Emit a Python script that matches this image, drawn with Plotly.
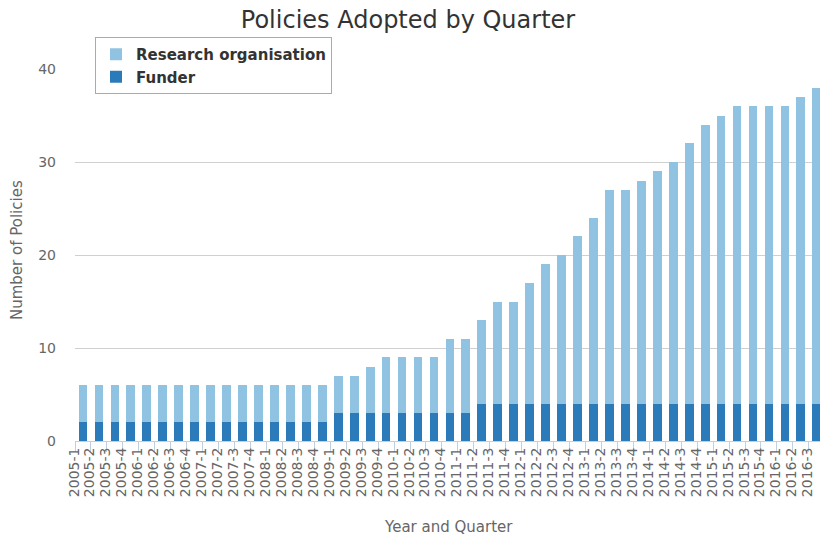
import plotly.graph_objects as go

quarters = [f"{y}-{q}" for y in range(2005, 2017) for q in range(1, 5)][:47]

total_policies = [6] * 16 + [7, 7, 8, 9, 9, 9, 9, 11, 11, 13, 15, 15, 17, 19, 20, 22, 24,
                             27, 27, 28, 29, 30, 32, 34, 35, 36, 36, 36, 36, 37, 38]
funder = [2] * 16 + [3] * 9 + [4] * 22
research_org = [t - f for t, f in zip(total_policies, funder)]

LIGHT = "#90c3e1"
DARK = "#2b7bbb"
GRAY = "#666666"

W, H = 820, 540
PL, PT, PB = 75, 69, 441  # plot left, top, bottom in px
PW, PH = W - PL, PB - PT

fig = go.Figure()
fig.add_trace(go.Bar(x=quarters, y=funder, name="Funder", legendrank=2,
                     marker=dict(color=DARK, line=dict(width=0))))
fig.add_trace(go.Bar(x=quarters, y=research_org, name="Research organisation", legendrank=1,
                     marker=dict(color=LIGHT, line=dict(width=0))))

fig.update_layout(
    barmode="stack",
    bargap=0.45,
    width=W, height=H,
    margin=dict(l=PL, r=0, t=PT, b=H - PB, autoexpand=False),
    paper_bgcolor="white", plot_bgcolor="white",
    font=dict(family="DejaVu Sans", color=GRAY),
    title=dict(text="Policies Adopted by Quarter", x=408 / W, xanchor="center",
               y=1 - 20 / H, yanchor="middle", yref="container",
               font=dict(size=24, color="#333333", family="DejaVu Sans")),
    legend=dict(x=(95 - PL) / PW, y=(PB - 37) / PH, xanchor="left", yanchor="top",
                traceorder="normal", bgcolor="white", bordercolor="#aaaaaa", borderwidth=1,
                font=dict(size=15, color="#333333", family="DejaVu Sans", weight="bold"),
                itemwidth=30),
    showlegend=True,
)
fig.update_xaxes(
    type="category", range=[-0.5, 46.2], tickangle=-90, automargin=False,
    tickmode="array", tickvals=quarters, ticktext=quarters,
    tickson="boundaries", ticks="outside", ticklen=10, tickcolor="#c0d0e0",
    showline=True, linecolor="#c0d0e0", linewidth=1, ticklabelshift=-9,
    showgrid=False, tickfont=dict(size=14, color=GRAY),
)
fig.update_yaxes(
    range=[0, 40], dtick=10, showgrid=True, gridcolor="#d0d0d0", gridwidth=1,
    zeroline=False, showline=False, ticks="", tickfont=dict(size=14, color=GRAY),
    ticklabelstandoff=18, automargin=False,
)
fig.add_annotation(text="Number of Policies", xref="paper", yref="paper",
                   x=(17 - PL) / PW, y=(PB - 250) / PH, textangle=-90,
                   showarrow=False, font=dict(size=15, color=GRAY), xanchor="center", yanchor="middle")
fig.add_annotation(text="Year and Quarter", xref="paper", yref="paper",
                   x=(448 - PL) / PW, y=-(527 - PB) / PH,
                   showarrow=False, font=dict(size=15, color=GRAY), xanchor="center", yanchor="middle")

fig.write_html(
    "out.html",
    config={"displayModeBar": False},
    post_script="document.body.style.margin='0';document.body.style.overflow='hidden';",
)
